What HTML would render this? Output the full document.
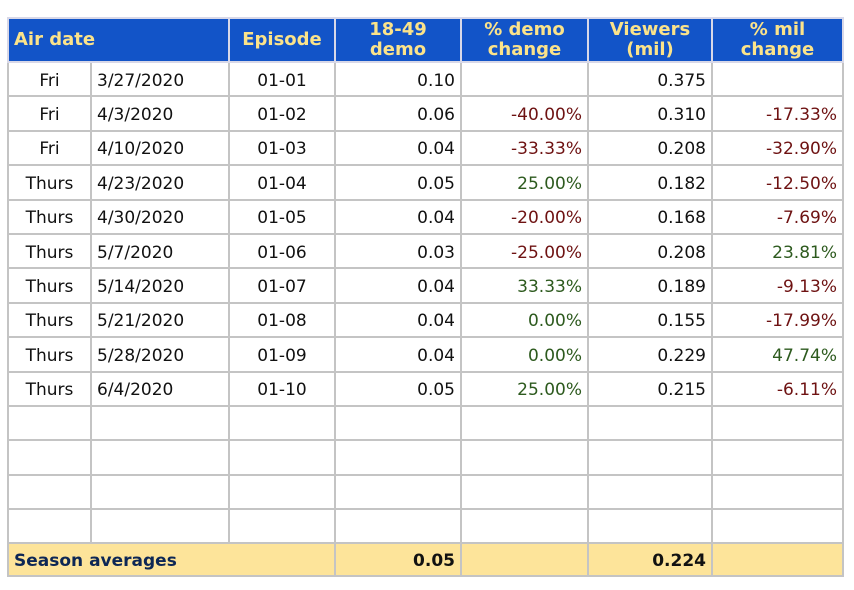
<!DOCTYPE html>
<html><head><meta charset="utf-8"><style>
body{margin:0;background:#fff;width:854px;height:590px;overflow:hidden;font-family:"DejaVu Sans",Verdana,sans-serif;}
table{position:absolute;left:7px;top:17px;border-collapse:collapse;table-layout:fixed;width:835px;}
td{border:2px solid #c4c4c4;padding:3px 5px 0 5px;font-size:17px;color:#111;white-space:nowrap;overflow:hidden;height:29.4px;}
tr.h td{background:#1254c8;color:#fbe38a;font-weight:bold;text-align:center;height:42px;padding-top:0;line-height:20px;font-size:18px;border-color:#d8d8e8;}
tr.h td.l{text-align:left;}
.c{text-align:center}.r{text-align:right}.l{text-align:left}
.n{color:#6e1212}.p{color:#2d5a1e}
tr.f td{background:#fde49a;font-weight:bold;color:#0d2755;height:28px;font-size:17px;}
tr.f td.r{color:#111}
</style></head><body>
<table>
<colgroup><col style="width:83px"><col style="width:138px"><col style="width:106px"><col style="width:126px"><col style="width:127px"><col style="width:124px"><col style="width:131px"></colgroup>
<tr class="h"><td colspan="2" class="l">Air date</td><td>Episode</td><td>18-49<br>demo</td><td>% demo<br>change</td><td>Viewers<br>(mil)</td><td>% mil<br>change</td></tr>
<tr><td class="c">Fri</td><td>3/27/2020</td><td class="c">01-01</td><td class="r">0.10</td><td></td><td class="r">0.375</td><td></td></tr>
<tr><td class="c">Fri</td><td>4/3/2020</td><td class="c">01-02</td><td class="r">0.06</td><td class="r n">-40.00%</td><td class="r">0.310</td><td class="r n">-17.33%</td></tr>
<tr><td class="c">Fri</td><td>4/10/2020</td><td class="c">01-03</td><td class="r">0.04</td><td class="r n">-33.33%</td><td class="r">0.208</td><td class="r n">-32.90%</td></tr>
<tr><td class="c">Thurs</td><td>4/23/2020</td><td class="c">01-04</td><td class="r">0.05</td><td class="r p">25.00%</td><td class="r">0.182</td><td class="r n">-12.50%</td></tr>
<tr><td class="c">Thurs</td><td>4/30/2020</td><td class="c">01-05</td><td class="r">0.04</td><td class="r n">-20.00%</td><td class="r">0.168</td><td class="r n">-7.69%</td></tr>
<tr><td class="c">Thurs</td><td>5/7/2020</td><td class="c">01-06</td><td class="r">0.03</td><td class="r n">-25.00%</td><td class="r">0.208</td><td class="r p">23.81%</td></tr>
<tr><td class="c">Thurs</td><td>5/14/2020</td><td class="c">01-07</td><td class="r">0.04</td><td class="r p">33.33%</td><td class="r">0.189</td><td class="r n">-9.13%</td></tr>
<tr><td class="c">Thurs</td><td>5/21/2020</td><td class="c">01-08</td><td class="r">0.04</td><td class="r p">0.00%</td><td class="r">0.155</td><td class="r n">-17.99%</td></tr>
<tr><td class="c">Thurs</td><td>5/28/2020</td><td class="c">01-09</td><td class="r">0.04</td><td class="r p">0.00%</td><td class="r">0.229</td><td class="r p">47.74%</td></tr>
<tr><td class="c">Thurs</td><td>6/4/2020</td><td class="c">01-10</td><td class="r">0.05</td><td class="r p">25.00%</td><td class="r">0.215</td><td class="r n">-6.11%</td></tr>
<tr><td></td><td></td><td></td><td></td><td></td><td></td><td></td></tr>
<tr><td></td><td></td><td></td><td></td><td></td><td></td><td></td></tr>
<tr><td></td><td></td><td></td><td></td><td></td><td></td><td></td></tr>
<tr><td></td><td></td><td></td><td></td><td></td><td></td><td></td></tr>
<tr class="f"><td colspan="3" class="l">Season averages</td><td class="r">0.05</td><td></td><td class="r">0.224</td><td></td></tr>
</table>
</body></html>
